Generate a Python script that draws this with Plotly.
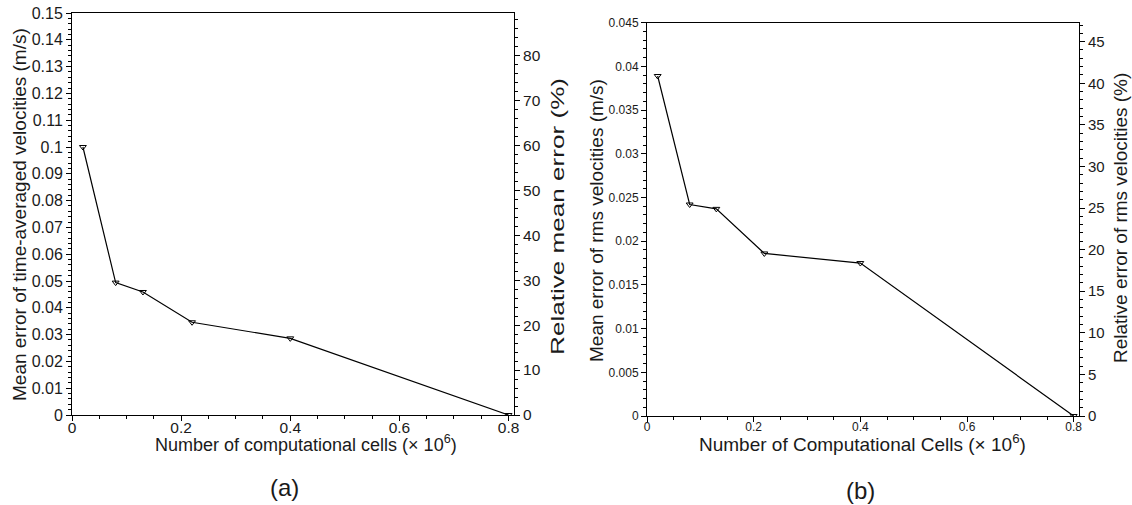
import plotly.graph_objects as go

# Grid-convergence data: number of cells (millions) vs. error
cells = [0.02, 0.08, 0.13, 0.22, 0.40, 0.80]
mean_err = [0.100, 0.0494, 0.0459, 0.0346, 0.0286, 0.0]      # (a) time-averaged velocity error, m/s
rms_err = [0.0389, 0.0242, 0.0237, 0.0186, 0.0175, 0.0]      # (b) rms velocity error, m/s

W, H = 1132, 505
FONT = "Liberation Sans, Arial, sans-serif"
INK = "#1a1a1a"


def px_x(p):
    return p / W


def px_y(p):
    return 1 - p / H


fig = go.Figure()

line_style = dict(color="black", width=1.2)
marker_style = dict(symbol="triangle-down-open", size=6, color="black", line=dict(width=1, color="black"))

fig.add_trace(go.Scatter(x=cells, y=mean_err, mode="lines+markers", line=line_style,
                         marker=marker_style, xaxis="x", yaxis="y", showlegend=False))
fig.add_trace(go.Scatter(x=[None], y=[None], xaxis="x", yaxis="y2", showlegend=False, hoverinfo="skip"))
fig.add_trace(go.Scatter(x=cells, y=rms_err, mode="lines+markers", line=line_style,
                         marker=marker_style, xaxis="x2", yaxis="y3", showlegend=False))
fig.add_trace(go.Scatter(x=[None], y=[None], xaxis="x2", yaxis="y4", showlegend=False, hoverinfo="skip"))


def axis(domain, rng, dtick, minor, size, **kw):
    d = dict(domain=domain, range=rng, dtick=dtick, tick0=0, showgrid=False, zeroline=False,
             automargin=False,
             showline=True, linecolor="black", linewidth=1, ticks="outside", ticklen=5,
             tickcolor="black", tickwidth=1, tickfont=dict(family=FONT, size=size, color=INK),
             minor=dict(ticks="outside", ticklen=3, dtick=minor, tick0=0, tickcolor="black", showgrid=False))
    d.update(kw)
    return d


xa = [px_x(72), px_x(514)]
ya = [px_y(415), px_y(13)]
xb = [px_x(647), px_x(1079)]
yb = [px_y(416), px_y(22.7)]

fig.update_layout(
    width=W, height=H,
    margin=dict(l=0, r=0, t=0, b=0, autoexpand=False),
    paper_bgcolor="white", plot_bgcolor="white",
    xaxis=axis(xa, [0, 0.81], 0.2, 0.05, 15.5, anchor="y", mirror=True, ticklabelstandoff=-7),
    yaxis=axis(ya, [0, 0.15], 0.01, 0.002, 16, anchor="x"),
    yaxis2=axis(ya, [0, 89.4], 10, 2, 15.5, anchor="x", overlaying="y", side="right"),
    xaxis2=axis(xb, [0, 0.81], 0.2, 0.05, 12, anchor="y3", mirror=True, ticklabelstandoff=-5),
    yaxis3=axis(yb, [0, 0.045], 0.005, 0.001, 12, anchor="x2"),
    yaxis4=axis(yb, [0, 47.28], 5, 1, 15, anchor="x2", overlaying="y3", side="right"),
)


def label(text, x, y, size=18, angle=0):
    fig.add_annotation(text=text, x=px_x(x), y=px_y(y), xref="paper", yref="paper",
                       showarrow=False, textangle=angle, xanchor="center", yanchor="middle",
                       font=dict(family=FONT, size=size, color=INK))


label("Mean error of time-averaged velocities (m/s)", 20, 215, size=19, angle=-90)
label("Relative mean error (%)", 558, 217, angle=-90)
label("Number of computational cells (\u00d7 10<sup>6</sup>)", 306, 443)
label("(a)", 284, 487, size=24)

label("Mean error of rms velocities (m/s)", 597, 221, size=19, angle=-90)
label("Relative error of rms velocities (%)", 1121, 218, size=19, angle=-90)
label("Number of Computational Cells (\u00d7 10<sup>6</sup>)", 862, 443, size=19)
label("(b)", 860, 490, size=24)

# The right-hand title of panel (a) is set in a horizontally stretched face
stretch_js = """
var gd = document.getElementById('{plot_id}');
function stretchTitle() {
  gd.querySelectorAll('text.annotation-text').forEach(function (t) {
    if (t.textContent.indexOf('Relative mean error') === 0) {
      t.setAttribute('textLength', '277');
      t.setAttribute('lengthAdjust', 'spacingAndGlyphs');
    }
  });
}
stretchTitle();
gd.on('plotly_afterplot', stretchTitle);
"""

fig.write_html("out.html", post_script=stretch_js)
